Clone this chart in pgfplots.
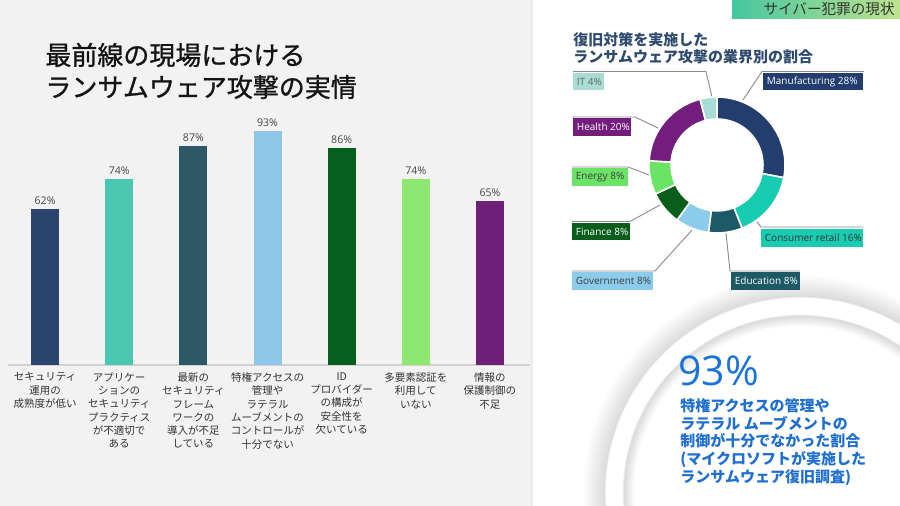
\documentclass[border=0pt]{standalone}
\usepackage{pgfplots}
\pgfplotsset{compat=1.18}
\usepackage{fontspec}
\setmainfont{Open Sans}
\newfontfamily\jp{Noto Sans CJK JP}
\newfontfamily\jpm[FakeBold=1]{Noto Sans CJK JP}
\definecolor{panel}{HTML}{F2F2F2}
\definecolor{bA}{HTML}{2B446E}
\definecolor{bB}{HTML}{4BC6B0}
\definecolor{bC}{HTML}{2D5866}
\definecolor{bD}{HTML}{8FC7E8}
\definecolor{bE}{HTML}{056020}
\definecolor{bF}{HTML}{8DE871}
\definecolor{bG}{HTML}{6E1F78}
\definecolor{dMan}{HTML}{223D6E}
\definecolor{dCon}{HTML}{18CCB1}
\definecolor{dEdu}{HTML}{1E5966}
\definecolor{dGov}{HTML}{8BCBEC}
\definecolor{dFin}{HTML}{0A5E1C}
\definecolor{dEne}{HTML}{6BE466}
\definecolor{dHea}{HTML}{731D7D}
\definecolor{dIT}{HTML}{A8DDD5}
\definecolor{dTitle}{HTML}{2E4B6E}
\definecolor{banL}{HTML}{45C6A0}
\definecolor{banR}{HTML}{BDE48C}
\definecolor{blueBig}{HTML}{1A73D9}
\definecolor{blueT}{HTML}{1F6FD1}
\definecolor{leader}{HTML}{8A8A8A}
\pgfdeclareradialshading{ringshade}{\pgfpointorigin}{color(0bp)=(white); color(19.0bp)=(white); color(20.25bp)=(black!15); color(20.4bp)=(white); color(22.3bp)=(white); color(22.45bp)=(black!14); color(25bp)=(white); color(50bp)=(white)}
\newcommand\seg[3]{%
  \filldraw[fill=#3, draw=white, line width=0.8pt]
  (axis cs:{cos(90-3.6*#1)},{sin(90-3.6*#1)})
  arc[start angle={90-3.6*#1}, end angle={90-3.6*#2}, radius=34pt]
  -- (axis cs:{0.676*cos(90-3.6*#2)},{0.676*sin(90-3.6*#2)})
  arc[start angle={90-3.6*#2}, end angle={90-3.6*#1}, radius=23pt] -- cycle;}
\newcommand\lbox[7]{%
  \fill[#5] (#1,{506-#2}) rectangle (#3,{506-#4});
  \node[anchor=west, inner sep=0pt, text=#6, font=\fontsize{5}{6}\selectfont] at ({#1+3.5},{506-(#2+#4)/2}) {#7};}
\begin{document}
\begin{tikzpicture}[x=0.5pt,y=0.5pt]
\useasboundingbox (0,0) rectangle (900,506);
\fill[white] (0,0) rectangle (900,506);
\fill[panel] (0,0) rectangle (533,506);
\fill[black!7] (530,0) rectangle (533,506);
\begin{scope}
\clip (533,0) rectangle (900,506);
\shade[shading=ringshade] (800,14) circle (218);
\end{scope}
% banner
\shade[left color=banL, right color=banR] (732,487) rectangle (900,506);
\node[anchor=east, inner sep=0pt, text=black!80, font=\jp\fontsize{7.3}{8}\selectfont] at (895,496.5) {サイバー犯罪の現状};
% left title
\node[anchor=west, inner sep=0pt, text=black!92, font=\jpm\fontsize{13}{15}\selectfont] at (45,451) {最前線の現場における};
\node[anchor=west, inner sep=0pt, text=black!92, font=\jpm\fontsize{13}{15}\selectfont] at (45,419) {ランサムウェア攻撃の実情};
% bar chart
\begin{axis}[at={(4pt,70.5pt)}, anchor=south west, scale only axis,
  width=261pt, height=126pt, xmin=-0.5, xmax=6.54, ymin=0, ymax=100,
  axis y line=none, axis x line=bottom,
  x axis line style={draw=black!18, line width=1pt, -},
  xtick={0,...,6}, tick style={draw=none},
  xticklabels={{セキュリティ\\運用の\\成熟度が低い},
    {アプリケー\\ションの\\セキュリティ\\プラクティス\\が不適切で\\ある},
    {最新の\\セキュリティ\\フレーム\\ワークの\\導入が不足\\している},
    {特権アクセスの\\管理や\\ラテラル\\ムーブメントの\\コントロールが\\十分でない},
    {ID\\プロバイダー\\の構成が\\安全性を\\欠いている},
    {多要素認証を\\利用して\\いない},
    {情報の\\保護制御の\\不足}},
  xticklabel style={align=center, font=\jp\fontsize{5.25}{6.65}\selectfont, text=black!80, inner sep=0pt, yshift=-1.5pt},
  clip=false,
  /pgf/number format/assume math mode=true,
  nodes near coords={\pgfmathprintnumber{\pgfplotspointmeta}\%},
  every node near coord/.append style={font=\fontsize{5.3}{6}\selectfont, text=black!72, inner sep=2pt},
]
\addplot[ybar, bar width=14pt, bar shift=0pt, fill=bA, draw=none] coordinates {(0,62)};
\addplot[ybar, bar width=14pt, bar shift=0pt, fill=bB, draw=none] coordinates {(1,74)};
\addplot[ybar, bar width=14pt, bar shift=0pt, fill=bC, draw=none] coordinates {(2,87)};
\addplot[ybar, bar width=14pt, bar shift=0pt, fill=bD, draw=none] coordinates {(3,93)};
\addplot[ybar, bar width=14pt, bar shift=0pt, fill=bE, draw=none] coordinates {(4,86)};
\addplot[ybar, bar width=14pt, bar shift=0pt, fill=bF, draw=none] coordinates {(5,74)};
\addplot[ybar, bar width=14pt, bar shift=0pt, fill=bG, draw=none] coordinates {(6,65)};
\end{axis}
% donut title
\node[anchor=west, inner sep=0pt, text=dTitle, font=\jp\bfseries\fontsize{7.5}{9}\selectfont] at (573,466) {復旧対策を実施した};
\node[anchor=west, inner sep=0pt, text=dTitle, font=\jp\bfseries\fontsize{7.5}{9}\selectfont] at (573,449) {ランサムウェア攻撃の業界別の割合};
% leader lines
\begin{scope}[draw=leader, line width=0.45pt]
\draw (573,434.5) -- (706,434.5) -- (712,409);
\draw (864,434.5) -- (762,434.5) -- (743,406);
\draw (573,389) -- (635,389) -- (658,378);
\draw (572,339) -- (628,339) -- (649,331);
\draw (572,284.5) -- (630,284.5) -- (660,301);
\draw (572,235) -- (655,235) -- (692,276);
\draw (800,235) -- (730,235) -- (726,273);
\draw (863,279) -- (761,279) -- (757,284);
\end{scope}
% donut
\begin{axis}[at={(358.5pt,170.5pt)}, anchor=center, scale only axis,
  width=68pt, height=68pt, xmin=-1, xmax=1, ymin=-1, ymax=1, hide axis, clip=false]
\seg{0}{28}{dMan}
\seg{28}{44}{dCon}
\seg{44}{52}{dEdu}
\seg{52}{60}{dGov}
\seg{60}{68}{dFin}
\seg{68}{76}{dEne}
\seg{76}{96}{dHea}
\seg{96}{100}{dIT}
\end{axis}
% label boxes
\lbox{573}{73}{604}{90}{dIT}{black!60}{IT 4\%}
\lbox{763}{73}{863}{90}{dMan}{white}{Manufacturing 28\%}
\lbox{573}{118}{631}{136}{dHea}{white}{Health 20\%}
\lbox{572}{168}{628}{186}{dEne}{black!75}{Energy 8\%}
\lbox{572}{223}{630}{240}{dFin}{white}{Finance 8\%}
\lbox{572}{272}{653}{290}{dGov}{black!75}{Government 8\%}
\lbox{731}{272}{800}{290}{dEdu}{white}{Education 8\%}
\lbox{761}{229}{863}{247}{dCon}{black!80}{Consumer retail 16\%}
% big stat
\node[anchor=west, inner sep=0pt, text=blueBig, font=\fontsize{20.5}{21}\selectfont] at (678,135) {93\%};
\node[anchor=north west, align=left, inner sep=0pt, text=blueT, font=\jp\bfseries\fontsize{7.5}{8.85}\selectfont] at (680,108) {特権アクセスの管理や\\ラテラル ムーブメントの\\制御が十分でなかった割合\\(マイクロソフトが実施した\\ランサムウェア復旧調査)};
\end{tikzpicture}
\end{document}
